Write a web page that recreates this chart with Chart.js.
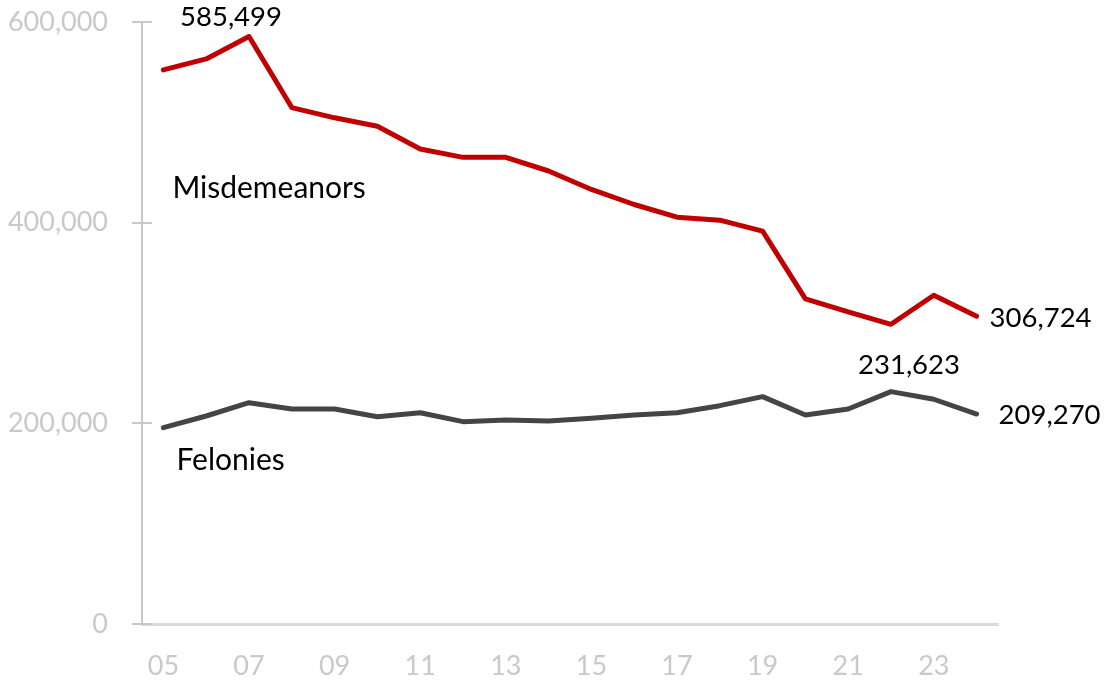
<!DOCTYPE html>
<html>
<head>
<meta charset="utf-8">
<script src="https://cdn.jsdelivr.net/npm/chart.js@4"></script>
<style>
html,body{margin:0;padding:0;background:#fff;}
canvas{display:block;}
</style>
</head>
<body>
<canvas id="c" width="1107" height="680"></canvas>
<script>
const years = ['05','06','07','08','09','10','11','12','13','14','15','16','17','18','19','20','21','22','23','24'];
const misdemeanors = [552300, 563200, 585499, 514700, 504500, 496100, 473400, 465100, 465100, 451500, 433100, 418100, 405500, 402500, 391500, 324100, 311100, 298700, 327700, 306724];
const felonies = [195700, 207300, 220600, 214300, 214300, 206600, 210600, 201700, 203300, 202300, 205000, 208300, 210600, 217600, 226600, 208300, 214300, 231623, 224000, 209270];
const yTicks = [0, 200000, 400000, 600000];
const seriesNames = ['Misdemeanors', 'Felonies'];

const FONT = 'Lato, "Open Sans", sans-serif';
const AXIS_COLOR = '#c8c8c8';
const TICK_TEXT = '#c9c9c9';
const fmt = v => Number(v).toLocaleString('en-US');

const annotate = {
  id: 'annotate',
  afterDatasetsDraw(chart) {
    const ctx = chart.ctx;
    const x = chart.scales.x, y = chart.scales.y;
    ctx.save();
    // tick marks crossing the y axis
    ctx.strokeStyle = AXIS_COLOR;
    ctx.lineWidth = 2;
    yTicks.forEach(t => {
      const py = Math.round(y.getPixelForValue(t));
      ctx.beginPath();
      ctx.moveTo(x.left - 10, py);
      ctx.lineTo(x.left + 10, py);
      ctx.stroke();
    });
    ctx.fillStyle = '#000';
    ctx.font = '27.5px ' + FONT;
    ctx.textBaseline = 'middle';
    // peak misdemeanors
    const iPeak = misdemeanors.indexOf(Math.max(...misdemeanors));
    let px = x.getPixelForValue(iPeak), py = y.getPixelForValue(misdemeanors[iPeak]);
    ctx.textAlign = 'center';
    ctx.fillText(fmt(misdemeanors[iPeak]), px - 18, py - 19);
    // last misdemeanors
    const last = misdemeanors.length - 1;
    px = x.getPixelForValue(last); py = y.getPixelForValue(misdemeanors[last]);
    ctx.textAlign = 'left';
    ctx.fillText(fmt(misdemeanors[last]), px + 13, py + 2);
    // peak felonies
    const fPeak = felonies.indexOf(Math.max(...felonies));
    px = x.getPixelForValue(fPeak); py = y.getPixelForValue(felonies[fPeak]);
    ctx.textAlign = 'center';
    ctx.fillText(fmt(felonies[fPeak]), px + 18, py - 26);
    // last felonies
    px = x.getPixelForValue(last); py = y.getPixelForValue(felonies[last]);
    ctx.textAlign = 'left';
    ctx.fillText(fmt(felonies[last]), px + 22, py + 1);
    // series names
    ctx.font = '30px ' + FONT;
    px = x.getPixelForValue(0);
    ctx.fillText(seriesNames[0], px + 9, y.getPixelForValue(misdemeanors[0]) + 118);
    ctx.fillText(seriesNames[1], px + 13, y.getPixelForValue(felonies[0]) + 33);
    ctx.restore();
  }
};

new Chart(document.getElementById('c'), {
  type: 'line',
  data: {
    labels: years,
    datasets: [
      { label: seriesNames[0], data: misdemeanors, borderColor: '#c00000', borderWidth: 5, pointRadius: 0, tension: 0, borderCapStyle: 'round', borderJoinStyle: 'round' },
      { label: seriesNames[1], data: felonies, borderColor: '#454545', borderWidth: 5, pointRadius: 0, tension: 0, borderCapStyle: 'round', borderJoinStyle: 'round' }
    ]
  },
  options: {
    responsive: false,
    animation: false,
    devicePixelRatio: 1,
    layout: { padding: { top: 22, right: 109, left: 0, bottom: 0 } },
    plugins: { legend: { display: false }, tooltip: { enabled: false } },
    scales: {
      x: {
        type: 'category',
        offset: true,
        grid: { display: false, drawTicks: false },
        border: { display: true, color: '#d9d9d9', width: 3 },
        ticks: {
          autoSkip: false, maxRotation: 0, minRotation: 0, padding: 26,
          color: TICK_TEXT, font: { family: FONT, size: 27 },
          callback: (v, i) => (i % 2 === 0 ? years[i] : '')
        },
        afterFit: s => { s.height = 56; }
      },
      y: {
        min: 0, max: 600000,
        afterBuildTicks: s => { s.ticks = yTicks.map(v => ({ value: v })); },
        grid: { display: true, drawOnChartArea: false, drawTicks: true, tickLength: 34, tickColor: 'rgba(0,0,0,0)', color: AXIS_COLOR, lineWidth: 2 },
        border: { display: true, color: AXIS_COLOR, width: 2 },
        ticks: { padding: 0, color: TICK_TEXT, font: { family: FONT, size: 27 }, callback: v => fmt(v) },
        afterFit: s => { s.width = 142; }
      }
    }
  },
  plugins: [annotate]
});
</script>
</body>
</html>
